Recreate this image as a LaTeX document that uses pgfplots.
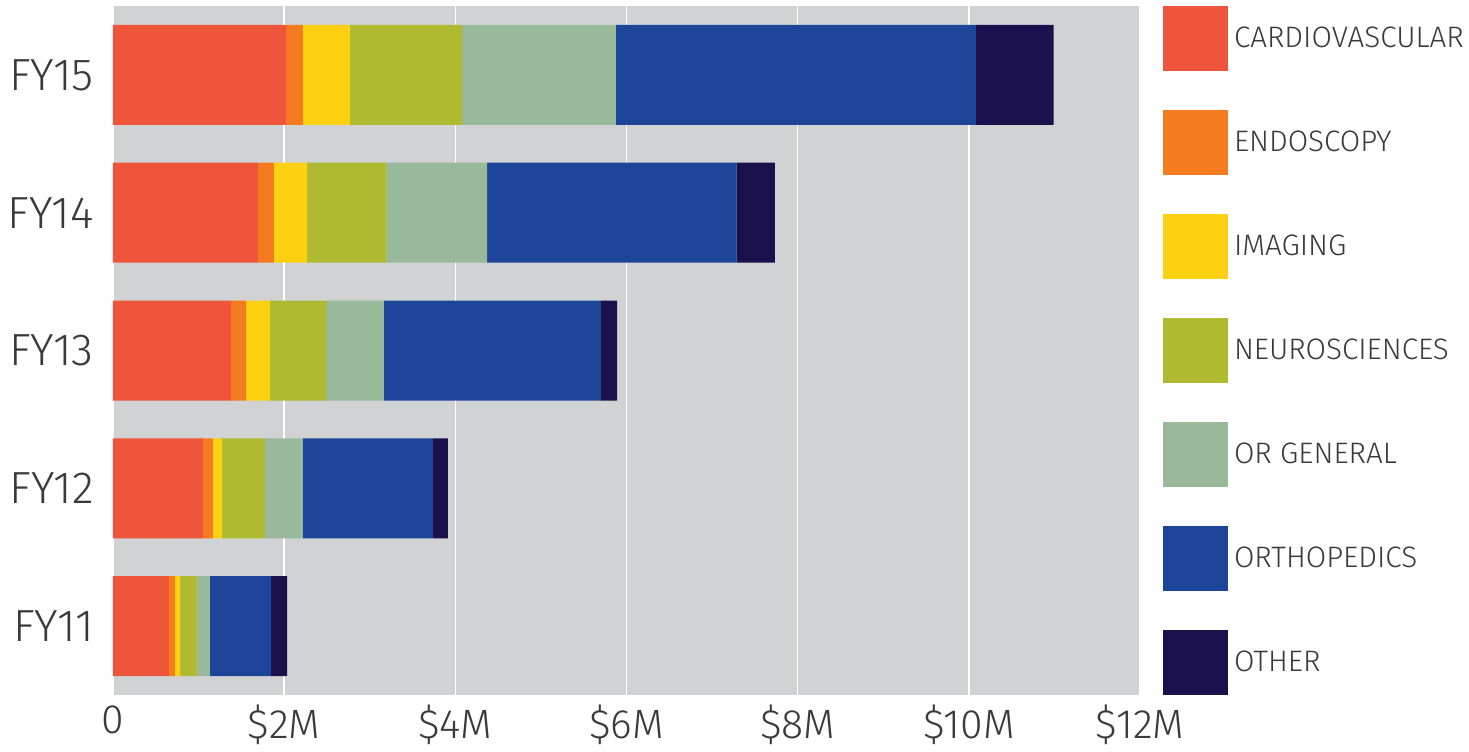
\documentclass[border=0pt]{standalone}
\usepackage{fontspec}
\setmainfont{Fira Sans Light}
\usepackage{pgfplots}
\pgfplotsset{compat=1.18}

\definecolor{cardio}{HTML}{EE553A}
\definecolor{endo}{HTML}{F47B20}
\definecolor{imaging}{HTML}{FDD012}
\definecolor{neuro}{HTML}{AFBA31}
\definecolor{orgen}{HTML}{98BA9A}
\definecolor{ortho}{HTML}{1C4599}
\definecolor{other}{HTML}{1A104C}
\definecolor{bggray}{HTML}{D1D2D4}
\definecolor{txt}{HTML}{3A3A3A}

% spend per fiscal year, $M
\pgfplotstableread{
pos cardio endo imaging neuro orgen ortho other
0 0.653 0.071 0.059 0.204 0.146 0.714 0.187
1 1.050 0.117 0.108 0.501 0.442 1.519 0.175
2 1.380 0.175 0.279 0.655 0.676 2.537 0.187
3 1.692 0.188 0.388 0.930 1.173 2.917 0.446
4 2.022 0.196 0.551 1.309 1.799 4.207 0.908
}\spend

\begin{document}
\begin{tikzpicture}
\path[use as bounding box] (-56.5pt,-28pt) rectangle (678pt,347.5pt);
\begin{axis}[
    xbar stacked,
    bar width=50pt,
    scale only axis,
    width=513.5pt, height=344.5pt,
    xmin=0, xmax=12,
    ymin=-0.5, ymax=4.5,
    xtick={0,2,...,12},
    xticklabels={0,\$2M,\$4M,\$6M,\$8M,\$10M,\$12M},
    ytick={0,...,4},
    yticklabels={FY11,FY12,FY13,FY14,FY15},
    axis background/.style={fill=bggray},
    xmajorgrids,
    major grid style={white, line width=0.8pt},
    axis line style={draw=none},
    tick style={draw=none},
    ticklabel style={font=\fontsize{20.5}{24}\selectfont, text=txt},
    xticklabel style={inner sep=0pt, anchor=north, yshift=-5pt},
    yticklabel style={inner sep=0pt, anchor=east, xshift=-9.5pt,
        font=\fontsize{22.5}{26}\selectfont},
    legend image code/.code={\fill[#1] (0pt,-16.25pt) rectangle (32.5pt,16.25pt);},
    legend style={at={(1,1)}, anchor=north west, xshift=11.5pt,
        draw=none, fill=none, inner sep=0pt, outer sep=0pt,
        row sep=19.5pt, column sep=1pt,
        font=\fontsize{14.8}{17}\selectfont, text=txt,
        cells={anchor=west, inner sep=0pt}},
    legend cell align=left,
]
\addplot[fill=cardio, draw=none] table[x=cardio, y=pos]{\spend};
\addplot[fill=endo, draw=none] table[x=endo, y=pos]{\spend};
\addplot[fill=imaging, draw=none] table[x=imaging, y=pos]{\spend};
\addplot[fill=neuro, draw=none] table[x=neuro, y=pos]{\spend};
\addplot[fill=orgen, draw=none] table[x=orgen, y=pos]{\spend};
\addplot[fill=ortho, draw=none] table[x=ortho, y=pos]{\spend};
\addplot[fill=other, draw=none] table[x=other, y=pos]{\spend};
\legend{CARDIOVASCULAR,ENDOSCOPY,IMAGING,NEUROSCIENCES,OR GENERAL,ORTHOPEDICS,OTHER}
\end{axis}
\end{tikzpicture}
\end{document}
